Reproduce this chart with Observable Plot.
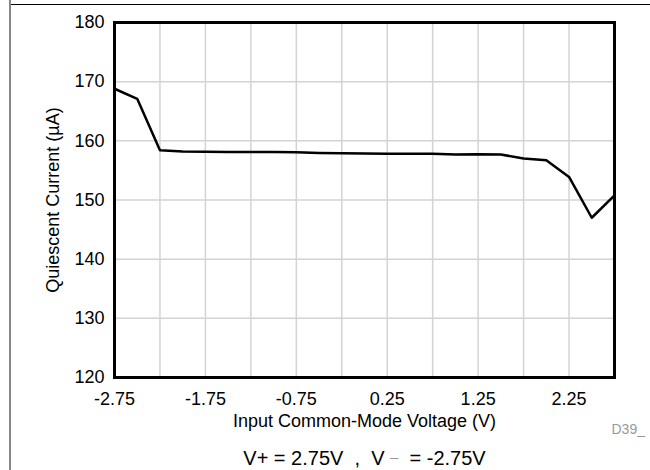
<!DOCTYPE html>
<html>
<head>
<meta charset="utf-8">
<script src="https://cdn.jsdelivr.net/npm/d3@7"></script>
<script src="https://cdn.jsdelivr.net/npm/@observablehq/plot@0.6"></script>
<style>
  html, body { margin: 0; padding: 0; background: #fff; }
  body { width: 650px; height: 470px; position: relative; overflow: hidden; font-family: "Liberation Sans", Arial, Helvetica, sans-serif; }
  #topline { position: absolute; left: 10px; top: 4px; width: 640px; height: 0; border-top: 1px solid #000; }
  #leftline { position: absolute; left: 9px; top: 0; width: 0; height: 470px; border-left: 2px solid #888; }
  #chart { position: absolute; left: 0; top: 0; }
  #caption { position: absolute; left: 0; top: 448px; width: 729px; text-align: center; font-size: 20px; color: #000; line-height: 20px; white-space: pre; }
  #caption .m { color: #999; font-size: 15px; vertical-align: 0.2em; line-height: 15px; }
</style>
</head>
<body>
<div id="topline"></div>
<div id="leftline"></div>
<div id="chart"></div>
<div id="caption">V+ = 2.75V  ,  V <span class="m">–</span>  = -2.75V</div>
<script>
const voltage = [-2.75, -2.5, -2.25, -2.0, -1.75, -1.5, -1.25, -1.0, -0.75, -0.5, -0.25, 0, 0.25, 0.5, 0.75, 1.0, 1.25, 1.5, 1.75, 2.0, 2.25, 2.5, 2.75];
const current = [168.8, 167.1, 158.4, 158.2, 158.15, 158.1, 158.1, 158.1, 158.05, 157.95, 157.9, 157.85, 157.8, 157.8, 157.8, 157.7, 157.75, 157.7, 157.0, 156.7, 153.9, 147.0, 150.8];
const xTicks = [-2.75, -1.75, -0.75, 0.25, 1.25, 2.25];
const xGrid = [-2.25, -1.75, -1.25, -0.75, -0.25, 0.25, 0.75, 1.25, 1.75, 2.25];
const yTicks = [120, 130, 140, 150, 160, 170, 180];
const yGrid = [130, 140, 150, 160, 170];
const xTitle = "Input Common-Mode Voltage (V)";
const yTitle = "Quiescent Current (µA)";
const codeLabel = "D39_";

const data = voltage.map((v, i) => ({v, c: current[i]}));

const chart = Plot.plot({
  width: 650,
  height: 440,
  marginLeft: 114,
  marginRight: 36,
  marginTop: 22,
  marginBottom: 63,
  style: {fontFamily: '"Liberation Sans", Arial, Helvetica, sans-serif', fontSize: "18px", color: "#000", background: "transparent", overflow: "visible"},
  x: {domain: [-2.75, 2.75]},
  y: {domain: [120, 180]},
  marks: [
    Plot.ruleX(xGrid, {stroke: "#d3d3d3", strokeWidth: 1.5}),
    Plot.ruleY(yGrid, {stroke: "#d3d3d3", strokeWidth: 1.5}),
    Plot.axisX({ticks: xTicks, tickFormat: d => String(d), tickSize: 0, tickPadding: 15, label: null, fontSize: 18}),
    Plot.axisY({ticks: yTicks, tickFormat: d => String(d), tickSize: 0, tickPadding: 10, label: null, fontSize: 18}),
    Plot.line(data, {x: "v", y: "c", stroke: "#000", strokeWidth: 2.5}),
    Plot.frame({stroke: "#000", strokeWidth: 3}),
    Plot.text([yTitle], {frameAnchor: "left", rotate: -90, dx: -61, fontSize: 18, textAnchor: "middle", lineAnchor: "middle", fill: "#000"}),
    Plot.text([xTitle], {frameAnchor: "bottom", dy: 44, fontSize: 18, textAnchor: "middle", lineAnchor: "middle", fill: "#000"}),
    Plot.text([codeLabel], {frameAnchor: "bottom-right", dx: -3, dy: 52, textAnchor: "start", lineAnchor: "middle", fontSize: 14, fill: "#999"})
  ]
});
document.getElementById("chart").appendChild(chart);
</script>
</body>
</html>
